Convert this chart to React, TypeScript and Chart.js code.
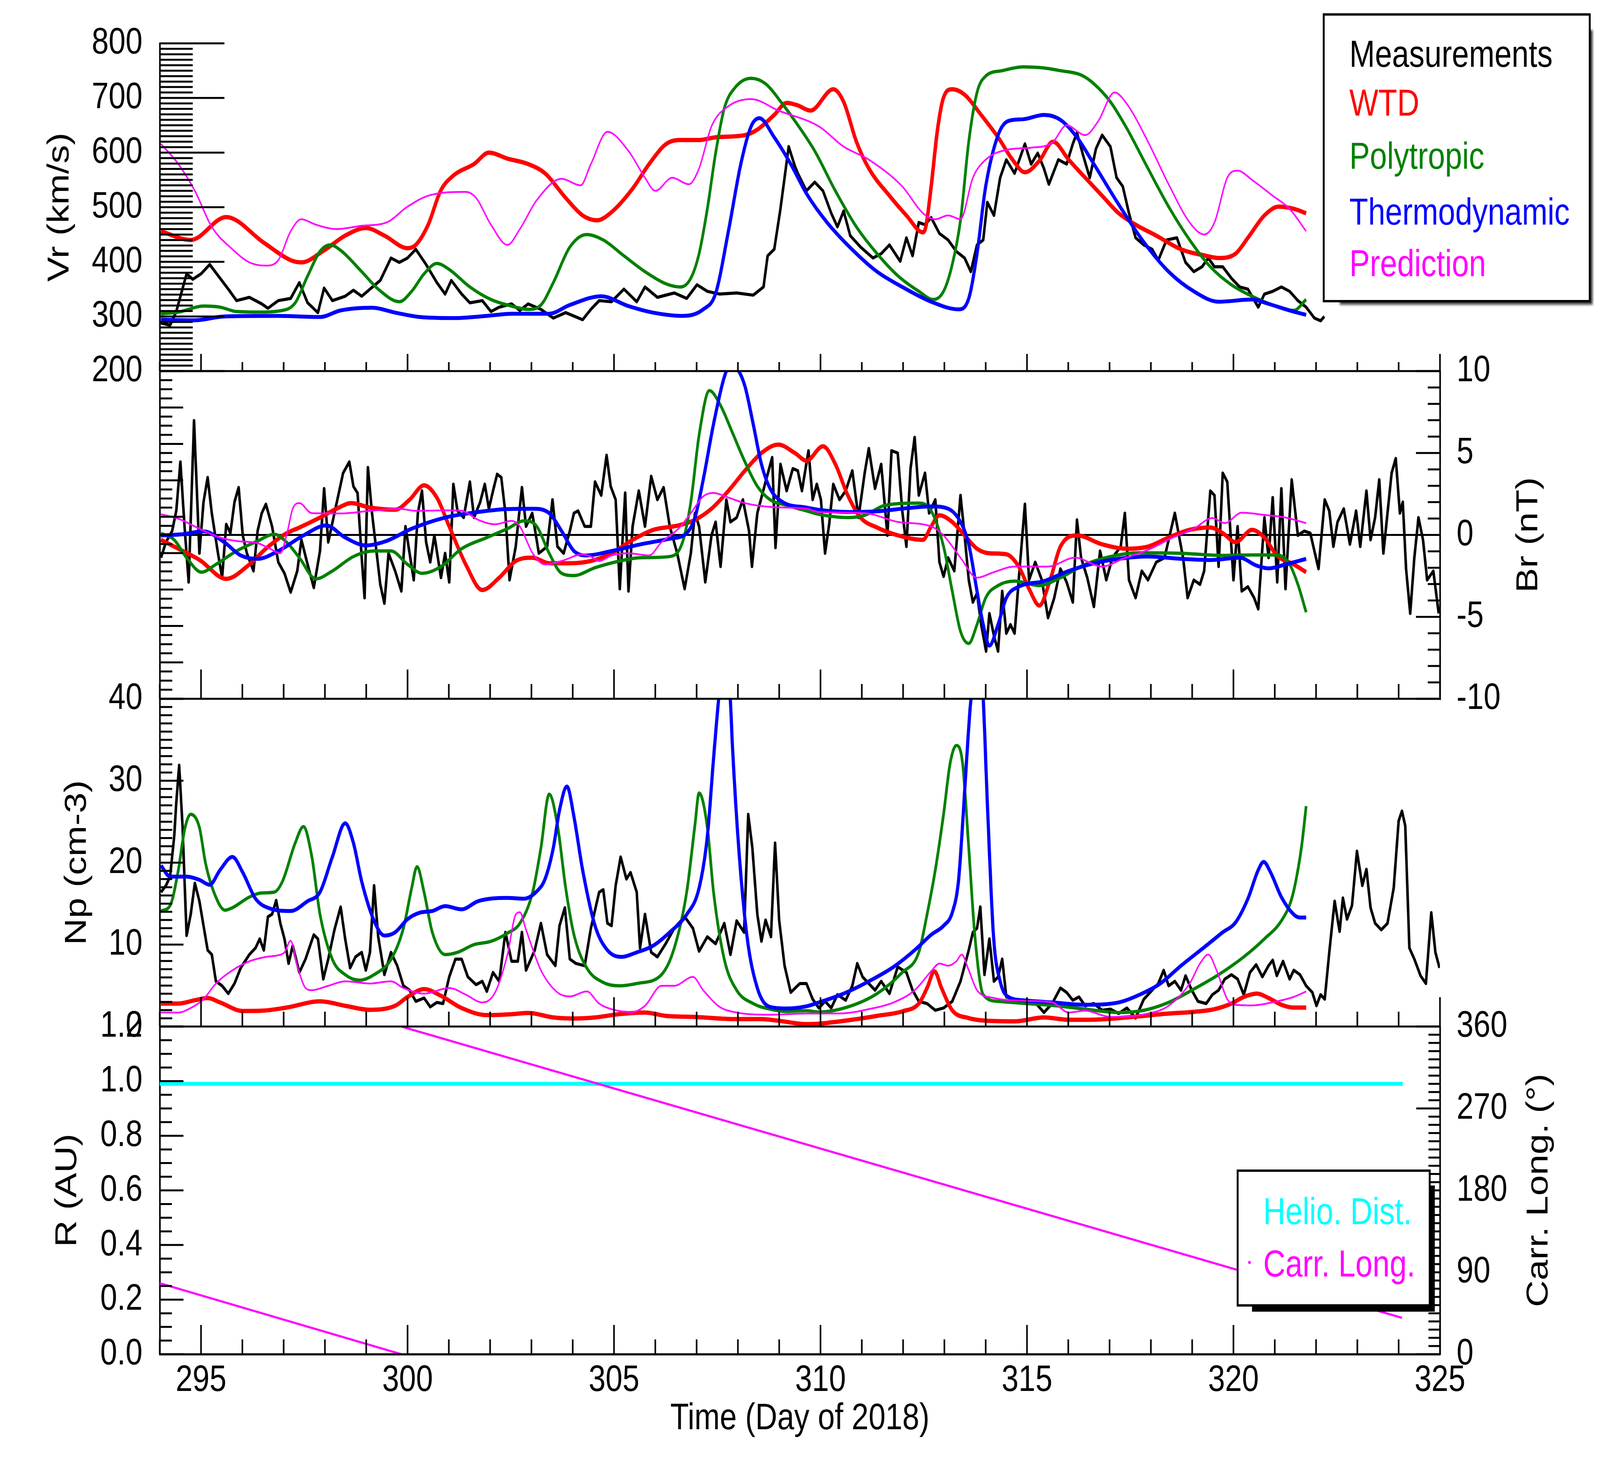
import { useEffect, useRef } from 'react';
import { Chart, registerables } from 'chart.js';

Chart.register(...registerables);

const FONT = '"Liberation Sans", Arial, Helvetica, sans-serif';
// the chart is laid out on a 4998 x 3748 drawing surface
const W = 4998;
const H = 3748;

// ---- tick labels ----
const dayLabels = [295, 300, 305, 310, 315, 320, 325];
const vrTicks = [200, 300, 400, 500, 600, 700, 800];
const brTicks = [-10, -5, 0, 5, 10];
const npTicks = [0, 10, 20, 30, 40];
const rTicks = [0, 0.2, 0.4, 0.6, 0.8, 1.0, 1.2];
const carrTicks = [0, 90, 180, 270, 360];

const legendTop = ['Measurements', 'WTD', 'Polytropic', 'Thermodynamic', 'Prediction'];
const legendBottom = ['Helio. Dist.', 'Carr. Long.'];

// ---- Vr (km/s): [day, value] ----
const vrMeas = [[294.03,288],[294.25,284],[294.4,309],[294.65,378],[294.8,368],[295.0,378],[295.21,395],[295.46,370],[295.66,350],[295.86,329],[296.17,335],[296.47,323],[296.62,315],[296.87,329],[297.17,333],[297.38,362],[297.58,325],[297.83,307],[297.98,352],[298.18,329],[298.49,337],[298.69,348],[298.89,337],[299.09,350],[299.34,366],[299.6,407],[299.8,399],[300.0,407],[300.2,423],[300.45,395],[300.71,362],[300.91,341],[301.06,366],[301.31,341],[301.51,325],[301.81,329],[302.02,309],[302.22,317],[302.52,323],[302.72,311],[302.92,323],[303.23,313],[303.53,297],[303.83,307],[304.24,294],[304.44,313],[304.64,329],[304.94,327],[305.24,350],[305.55,327],[305.75,354],[306.05,335],[306.46,343],[306.76,333],[307.01,358],[307.26,346],[307.56,341],[307.97,343],[308.37,339],[308.62,354],[308.72,411],[308.88,423],[309.03,497],[309.13,554],[309.23,611],[309.38,575],[309.45,562],[309.66,530],[309.86,546],[310.06,530],[310.26,489],[310.41,464],[310.56,493],[310.72,448],[310.97,427],[311.27,407],[311.47,415],[311.67,431],[311.93,401],[312.08,444],[312.23,411],[312.38,472],[312.53,468],[312.68,481],[312.88,452],[313.09,440],[313.29,419],[313.49,407],[313.64,382],[313.79,431],[313.94,440],[314.04,509],[314.2,485],[314.35,554],[314.5,587],[314.7,562],[314.95,616],[315.1,579],[315.26,599],[315.41,571],[315.53,542],[315.76,587],[315.96,579],[316.11,616],[316.21,636],[316.36,595],[316.52,554],[316.67,607],[316.82,632],[317.02,611],[317.17,554],[317.32,538],[317.47,489],[317.63,444],[317.83,431],[318.03,423],[318.18,403],[318.38,440],[318.63,444],[318.84,399],[319.04,382],[319.24,391],[319.39,407],[319.54,391],[319.74,391],[319.95,370],[320.15,354],[320.35,350],[320.6,317],[320.75,341],[320.95,346],[321.16,354],[321.36,346],[321.56,329],[321.76,317],[321.96,297],[322.11,292],[322.2,300]];
const vrWtd = [[294.03,456],[294.75,440],[295.61,482],[296.52,435],[297.17,403],[297.43,399],[297.98,421],[298.49,448],[298.99,462],[299.44,448],[300.0,425],[300.2,431],[300.5,468],[300.8,530],[301.11,558],[301.61,579],[301.97,600],[302.42,589],[302.92,579],[303.33,562],[303.83,517],[304.24,485],[304.59,476],[304.94,491],[305.45,534],[305.85,579],[306.25,615],[306.56,623],[307.06,623],[307.46,628],[308.17,632],[308.47,642],[308.88,669],[309.18,691],[309.43,687],[309.76,677],[310.31,716],[310.56,693],[310.87,620],[311.17,571],[311.67,521],[312.08,485],[312.48,454],[312.55,464],[312.68,538],[312.83,640],[312.98,701],[313.19,716],[313.49,706],[313.89,669],[314.3,628],[314.65,587],[314.95,564],[315.3,585],[315.63,620],[316.01,587],[316.41,554],[316.82,521],[317.22,489],[317.63,468],[318.13,448],[318.73,423],[319.34,411],[319.64,407],[320.05,415],[320.35,444],[320.75,485],[321.1,501],[321.46,497],[321.76,489]];
const vrPoly = [[294.03,305],[294.45,308],[295.06,319],[295.46,317],[295.86,309],[296.37,308],[296.97,311],[297.28,325],[297.58,374],[297.88,419],[298.13,431],[298.38,421],[298.89,382],[299.29,350],[299.8,327],[300.1,346],[300.4,378],[300.71,397],[301.01,386],[301.51,354],[302.02,331],[302.52,319],[302.92,313],[303.23,321],[303.53,362],[303.93,427],[304.34,450],[304.74,440],[305.24,411],[305.75,382],[306.25,360],[306.61,354],[306.86,370],[307.06,415],[307.26,497],[307.46,599],[307.67,681],[307.92,718],[308.32,736],[308.67,726],[309.08,689],[309.38,658],[309.86,603],[310.36,530],[310.87,464],[311.37,415],[311.88,374],[312.38,346],[312.73,331],[312.98,346],[313.19,395],[313.39,476],[313.59,620],[313.79,710],[314.0,740],[314.4,750],[314.9,757],[315.41,755],[315.81,750],[316.31,742],[316.62,726],[317.02,693],[317.42,644],[317.93,571],[318.43,501],[318.94,440],[319.44,391],[319.95,358],[320.45,337],[320.95,321],[321.46,311],[321.76,331]];
const vrThermo = [[294.03,294],[294.85,293],[295.56,300],[296.87,301],[297.88,299],[298.38,311],[299.14,316],[299.7,307],[300.3,299],[301.11,297],[301.92,301],[302.52,305],[303.43,305],[303.93,321],[304.69,337],[305.35,319],[305.95,307],[306.66,301],[307.16,313],[307.46,342],[307.77,456],[308.07,579],[308.32,648],[308.52,663],[308.88,628],[309.28,579],[309.66,525],[310.16,472],[310.87,415],[311.37,382],[311.98,354],[312.68,327],[313.34,313],[313.59,333],[313.79,415],[314.0,538],[314.3,632],[314.55,658],[314.9,661],[315.41,669],[315.81,660],[316.21,628],[316.62,579],[317.22,505],[317.83,436],[318.43,382],[319.04,346],[319.64,327],[320.45,331],[320.85,323],[321.36,311],[321.76,303]];
const vrPred = [[294.03,616],[294.45,579],[294.85,530],[295.26,464],[295.76,423],[296.17,399],[296.57,393],[296.87,403],[297.17,456],[297.43,478],[297.78,468],[298.28,460],[298.89,466],[299.49,472],[300.0,501],[300.5,521],[301.41,528],[301.66,517],[302.02,468],[302.42,431],[302.72,460],[303.13,513],[303.73,552],[304.19,540],[304.44,579],[304.84,638],[305.35,603],[305.75,554],[306.0,530],[306.41,554],[306.81,542],[307.06,571],[307.36,648],[307.77,685],[308.32,698],[308.98,677],[309.96,648],[310.56,611],[311.17,587],[311.98,538],[312.48,489],[312.78,478],[313.09,485],[313.39,478],[313.69,554],[314.0,587],[314.5,605],[315.1,609],[315.61,618],[315.96,650],[316.41,632],[316.72,657],[317.12,710],[317.42,689],[317.93,620],[318.43,542],[318.94,472],[319.29,450],[319.54,472],[319.85,554],[320.1,567],[320.45,550],[320.95,521],[321.36,497],[321.76,456]];

// ---- Br (nT) ----
const brMeas = [[294.03,-1.39],[294.15,-0.44],[294.3,0.24],[294.4,1.47],[294.5,4.46],[294.6,0.52],[294.7,-2.88],[294.83,6.98],[294.96,-1.12],[295.06,2.01],[295.16,3.51],[295.26,1.33],[295.41,-1.12],[295.51,-2.61],[295.61,0.65],[295.71,0.11],[295.81,2.01],[295.91,2.9],[296.01,-0.03],[296.11,-1.12],[296.27,-2.2],[296.37,0.24],[296.47,1.33],[296.57,1.88],[296.72,0.52],[296.87,-1.66],[297.02,-2.34],[297.17,-3.5],[297.33,-2.2],[297.43,-0.3],[297.58,-1.8],[297.73,-3.22],[297.88,-0.98],[297.98,2.83],[298.08,-0.44],[298.23,1.33],[298.44,3.78],[298.59,4.46],[298.69,2.96],[298.79,2.56],[298.89,-1.39],[298.96,-3.84],[299.04,4.12],[299.14,1.33],[299.24,-0.84],[299.34,-3.02],[299.44,-4.18],[299.54,-1.12],[299.7,-2.2],[299.85,-3.43],[299.95,0.52],[300.05,-1.12],[300.15,-2.75],[300.25,1.33],[300.35,2.69],[300.45,-0.44],[300.55,-1.66],[300.65,-0.03],[300.81,-2.61],[300.91,-1.12],[301.01,-2.88],[301.11,3.1],[301.21,1.47],[301.36,1.06],[301.51,3.24],[301.61,1.06],[301.76,2.01],[301.87,3.1],[301.97,1.6],[302.07,2.69],[302.17,3.71],[302.27,3.51],[302.37,1.33],[302.47,-2.75],[302.62,-0.71],[302.77,2.9],[302.87,0.52],[303.02,1.33],[303.18,-1.12],[303.38,-0.71],[303.51,2.15],[303.63,-0.71],[303.78,-1.12],[303.93,0.24],[304.03,1.33],[304.13,1.47],[304.29,0.52],[304.44,0.52],[304.54,3.24],[304.69,2.42],[304.82,4.87],[304.92,2.96],[305.04,2.15],[305.14,-3.29],[305.27,2.56],[305.35,-3.43],[305.45,0.52],[305.6,2.69],[305.75,0.52],[305.9,3.58],[306.05,2.15],[306.2,2.9],[306.35,0.52],[306.53,-1.12],[306.71,-3.29],[306.86,-1.12],[306.96,1.33],[307.06,0.52],[307.21,-2.88],[307.36,-0.03],[307.46,0.79],[307.58,-1.93],[307.72,2.15],[307.82,0.79],[307.97,1.06],[308.12,2.15],[308.27,0.24],[308.34,-1.93],[308.47,1.33],[308.67,3.24],[308.83,4.73],[308.91,-0.78],[309.03,4.32],[309.18,2.69],[309.33,4.05],[309.45,3.92],[309.55,2.69],[309.71,5.14],[309.81,2.15],[309.91,3.1],[310.01,2.15],[310.11,-1.12],[310.21,0.65],[310.31,3.1],[310.46,2.15],[310.61,2.69],[310.77,3.92],[310.92,1.06],[311.07,3.78],[311.17,5.28],[311.32,2.83],[311.47,4.32],[311.62,-0.03],[311.72,5.14],[311.87,5.0],[311.98,1.47],[312.08,-0.71],[312.18,4.05],[312.28,5.96],[312.38,2.42],[312.53,3.78],[312.63,1.33],[312.78,2.15],[312.88,-1.66],[312.98,-2.54],[313.09,-1.39],[313.24,-2.2],[313.39,2.42],[313.49,-0.03],[313.59,-2.75],[313.69,-4.11],[313.79,-3.56],[313.89,-5.47],[314.01,-7.1],[314.09,-4.79],[314.2,-6.15],[314.3,-7.1],[314.4,-3.43],[314.5,-6.01],[314.6,-5.47],[314.7,-6.01],[314.8,-2.75],[314.95,1.88],[315.05,-2.75],[315.2,-1.66],[315.36,-2.75],[315.51,-5.06],[315.66,-3.84],[315.81,-2.07],[315.96,-2.88],[316.11,-4.11],[316.21,0.92],[316.31,-1.39],[316.46,-2.61],[316.62,-4.38],[316.77,-0.98],[316.92,-2.75],[317.07,-1.39],[317.27,-0.71],[317.37,1.33],[317.47,-2.75],[317.63,-3.84],[317.78,-2.2],[317.93,-2.75],[318.13,-1.66],[318.33,-1.39],[318.48,0.24],[318.58,1.33],[318.68,-0.03],[318.78,-1.39],[318.89,-3.84],[319.04,-2.75],[319.19,-3.02],[319.29,-2.2],[319.44,2.69],[319.54,2.42],[319.64,-1.93],[319.74,3.78],[319.85,3.24],[320.0,-2.75],[320.1,0.52],[320.2,-3.43],[320.35,-3.16],[320.5,-3.84],[320.6,-4.52],[320.75,1.06],[320.85,-1.39],[320.95,2.28],[321.06,-2.88],[321.16,2.83],[321.26,-3.29],[321.41,3.37],[321.56,-0.03],[321.71,0.24],[321.86,0.11],[321.96,-0.98],[322.06,-2.07],[322.21,2.15],[322.32,1.47],[322.42,-0.71],[322.52,0.79],[322.67,1.6],[322.82,-0.57],[322.97,1.47],[323.07,-0.71],[323.22,2.69],[323.32,-0.3],[323.43,1.06],[323.53,3.37],[323.63,-1.12],[323.73,1.33],[323.83,3.78],[323.93,4.67],[324.03,1.33],[324.1,2.01],[324.18,-2.07],[324.28,-4.79],[324.38,-1.39],[324.48,1.06],[324.59,-0.3],[324.69,-2.75],[324.84,-2.2],[324.97,-4.79]];
const brWtd = [[294.03,-0.3],[294.45,-0.84],[294.96,-1.52],[295.61,-2.68],[296.17,-1.8],[296.57,-0.84],[297.07,0.1],[297.38,0.45],[297.88,1.06],[298.28,1.6],[298.64,1.94],[299.09,1.67],[299.7,1.54],[300.05,2.15],[300.4,3.03],[300.71,2.28],[301.01,0.52],[301.41,-1.8],[301.81,-3.36],[302.22,-2.61],[302.62,-1.59],[303.03,-1.39],[303.43,-1.73],[303.93,-1.73],[304.44,-1.59],[304.94,-1.12],[305.45,-0.3],[305.95,0.31],[306.56,0.58],[306.96,0.92],[307.36,1.6],[307.77,2.69],[308.17,3.92],[308.57,5.0],[308.98,5.51],[309.38,5.0],[309.66,4.53],[310.06,5.41],[310.36,4.32],[310.66,2.42],[310.97,1.06],[311.37,0.45],[311.88,-0.03],[312.48,-0.3],[312.68,0.52],[312.88,1.2],[313.19,0.79],[313.49,-0.03],[313.79,-0.84],[314.09,-1.12],[314.5,-1.18],[314.8,-1.93],[315.05,-3.29],[315.3,-4.31],[315.56,-2.75],[315.81,-0.71],[316.21,-0.03],[316.82,-0.57],[317.42,-0.84],[317.93,-0.71],[318.43,-0.16],[318.94,0.31],[319.44,0.45],[319.74,0.11],[320.05,-0.44],[320.45,0.31],[320.75,-0.16],[321.05,-1.25],[321.46,-1.8],[321.76,-2.27]];
const brPoly = [[294.03,0.1],[294.35,-0.3],[294.65,-1.39],[295.01,-2.27],[295.36,-1.8],[295.86,-0.98],[296.37,-0.37],[296.77,0.04],[297.07,-0.44],[297.38,-1.39],[297.78,-2.68],[298.18,-2.2],[298.69,-1.32],[299.19,-0.98],[299.6,-0.98],[300.0,-1.8],[300.35,-2.34],[300.81,-1.93],[301.31,-0.84],[301.92,-0.16],[302.42,0.38],[302.82,0.86],[303.13,0.52],[303.43,-1.12],[303.73,-2.34],[304.03,-2.48],[304.54,-2.0],[305.14,-1.59],[305.65,-1.39],[306.35,-1.32],[306.66,-0.44],[306.86,2.01],[307.06,6.09],[307.31,8.81],[307.56,8.0],[307.87,6.23],[308.17,4.46],[308.47,2.97],[308.78,2.15],[309.18,1.81],[309.66,1.47],[309.96,1.26],[310.66,1.06],[311.07,1.2],[311.57,1.81],[312.38,1.94],[312.68,1.47],[312.98,-0.71],[313.19,-3.43],[313.39,-5.88],[313.59,-6.62],[313.79,-5.47],[314.0,-3.84],[314.3,-3.09],[314.7,-2.82],[315.3,-3.09],[315.81,-2.61],[316.41,-1.8],[317.02,-1.32],[317.72,-1.09],[318.73,-1.12],[319.74,-1.25],[320.45,-1.22],[321.05,-1.22],[321.36,-1.8],[321.56,-3.02],[321.76,-4.72]];
const brThermo = [[294.03,-0.03],[294.55,0.04],[295.06,0.22],[295.56,-0.44],[295.96,-1.25],[296.37,-1.46],[296.87,-0.98],[297.48,-0.03],[298.03,0.58],[298.49,-0.16],[298.99,-0.64],[299.49,-0.37],[300.1,0.38],[300.91,1.06],[301.71,1.4],[302.42,1.58],[303.03,1.6],[303.43,1.33],[303.73,0.24],[304.03,-0.98],[304.34,-1.25],[304.94,-0.98],[305.65,-0.57],[306.35,-0.23],[306.76,0.11],[306.96,1.06],[307.16,3.37],[307.41,6.77],[307.67,9.63],[307.82,10.4],[307.97,10.2],[308.17,9.08],[308.37,6.77],[308.57,4.32],[308.78,2.83],[309.08,2.01],[309.66,1.67],[309.96,1.53],[310.66,1.4],[311.37,1.44],[312.08,1.63],[312.68,1.74],[313.09,1.6],[313.39,0.79],[313.59,-0.57],[313.79,-3.43],[313.94,-5.47],[314.09,-6.76],[314.3,-5.47],[314.5,-3.84],[314.8,-3.16],[315.41,-2.82],[316.01,-2.2],[316.62,-1.73],[317.22,-1.46],[317.93,-1.32],[318.73,-1.46],[319.44,-1.53],[320.15,-1.39],[320.55,-1.86],[320.85,-2.04],[321.26,-1.8],[321.76,-1.46]];
const brPred = [[294.03,1.26],[294.45,0.99],[294.96,0.38],[295.46,-0.16],[295.86,-0.37],[296.37,-0.5],[296.67,-0.84],[296.92,-1.12],[297.07,-0.03],[297.22,1.6],[297.38,1.94],[297.68,1.33],[298.38,1.31],[299.09,1.47],[299.8,1.6],[300.2,1.47],[300.91,1.5],[301.31,1.47],[301.71,0.92],[302.12,0.65],[302.52,0.86],[302.72,0.52],[303.03,-1.12],[303.33,-1.8],[303.73,-1.59],[304.24,-1.18],[304.44,-1.32],[304.64,-1.59],[304.94,-1.25],[305.35,-1.12],[305.85,-1.25],[306.15,-0.44],[306.56,0.38],[306.86,1.33],[307.16,2.35],[307.41,2.56],[307.77,2.28],[308.17,1.94],[308.78,1.71],[309.66,1.6],[309.96,1.4],[311.07,1.33],[311.88,0.79],[312.68,0.52],[312.98,-0.03],[313.39,-1.39],[313.79,-2.61],[314.2,-2.27],[314.7,-1.93],[315.51,-1.93],[316.16,-1.39],[316.82,-1.93],[317.32,-1.46],[317.93,-0.91],[318.53,-0.16],[319.04,0.38],[319.49,1.03],[319.79,0.72],[320.2,1.36],[320.75,1.22],[321.26,1.06],[321.76,0.72]];

// ---- Np (cm-3) ----
const npMeas = [[294.03,16.4],[294.15,17.2],[294.25,18.3],[294.35,23.2],[294.4,27.3],[294.47,31.9],[294.55,24.6],[294.65,11.1],[294.75,13.7],[294.85,17.5],[294.96,15.3],[295.06,12.3],[295.16,9.32],[295.26,8.78],[295.36,5.52],[295.51,4.97],[295.66,4.02],[295.81,5.25],[295.96,7.15],[296.17,8.78],[296.32,9.59],[296.42,10.7],[296.52,9.32],[296.62,13.4],[296.72,13.7],[296.82,15.4],[296.92,12.6],[297.02,10.7],[297.12,7.69],[297.22,9.87],[297.38,6.6],[297.53,8.23],[297.73,11.2],[297.83,10.7],[297.96,5.79],[298.08,8.23],[298.23,11.8],[298.38,14.6],[298.49,10.7],[298.61,7.15],[298.74,8.5],[298.89,9.05],[298.99,6.87],[299.09,9.05],[299.19,17.2],[299.29,10.95],[299.44,6.33],[299.6,9.05],[299.75,7.42],[299.9,4.97],[300.05,4.43],[300.2,3.07],[300.4,3.48],[300.55,2.39],[300.71,2.94],[300.86,2.8],[301.01,6.06],[301.16,8.23],[301.31,8.23],[301.46,6.06],[301.66,5.11],[301.81,5.52],[301.92,4.29],[302.07,6.6],[302.22,5.52],[302.37,11.5],[302.52,7.96],[302.67,7.96],[302.77,11.5],[302.87,6.87],[303.08,9.32],[303.23,12.6],[303.38,8.78],[303.58,7.42],[303.68,12.3],[303.81,14.5],[303.93,8.23],[304.08,7.69],[304.29,7.42],[304.44,12.0],[304.64,16.4],[304.74,16.7],[304.84,12.6],[304.94,12.3],[305.04,17.2],[305.16,20.7],[305.3,18.0],[305.4,18.8],[305.55,16.4],[305.63,9.59],[305.75,13.7],[305.9,9.05],[306.05,8.5],[306.25,10.1],[306.46,12.0],[306.71,13.4],[306.91,12.0],[307.06,9.19],[307.26,10.95],[307.46,10.1],[307.67,12.6],[307.82,8.78],[307.97,12.9],[308.15,11.5],[308.25,25.9],[308.35,21.8],[308.47,13.7],[308.57,10.4],[308.67,13.0],[308.8,10.95],[308.9,22.4],[309.0,12.9],[309.13,7.42],[309.28,4.16],[309.5,5.25],[309.66,5.25],[309.81,3.34],[309.96,2.26],[310.11,3.07],[310.26,2.26],[310.41,3.89],[310.61,3.21],[310.77,4.97],[310.89,7.69],[311.02,6.06],[311.17,5.25],[311.32,4.43],[311.47,5.52],[311.67,4.02],[311.87,7.28],[312.08,6.6],[312.23,4.43],[312.38,3.07],[312.58,2.8],[312.78,1.98],[312.98,2.26],[313.19,3.07],[313.39,5.52],[313.49,7.42],[313.59,9.32],[313.69,11.5],[313.79,12.0],[313.87,14.6],[313.97,6.33],[314.09,10.7],[314.2,5.52],[314.3,6.06],[314.4,8.23],[314.5,3.61],[314.7,3.34],[314.9,3.07],[315.2,2.94],[315.41,1.71],[315.61,2.8],[315.81,4.7],[315.96,4.16],[316.11,3.21],[316.26,3.61],[316.41,2.53],[316.62,2.8],[316.82,1.98],[317.02,2.12],[317.22,1.58],[317.42,2.26],[317.63,1.03],[317.83,3.34],[318.03,4.43],[318.18,5.25],[318.31,6.87],[318.43,4.97],[318.58,5.52],[318.73,4.43],[318.84,6.2],[318.99,4.43],[319.14,3.07],[319.34,2.8],[319.49,3.89],[319.64,4.43],[319.79,5.79],[319.95,6.33],[320.1,5.79],[320.25,3.89],[320.4,6.6],[320.55,7.55],[320.7,6.06],[320.85,7.42],[320.95,8.1],[321.05,6.2],[321.2,7.96],[321.36,5.79],[321.46,6.87],[321.61,6.33],[321.76,4.97],[321.91,4.16],[322.01,2.53],[322.11,3.89],[322.21,3.34],[322.32,9.05],[322.45,15.3],[322.57,11.6],[322.65,15.7],[322.75,13.1],[322.87,14.76],[322.99,21.4],[323.12,17.2],[323.22,19.2],[323.32,14.5],[323.43,12.6],[323.58,11.8],[323.73,12.6],[323.88,16.9],[324.0,25.1],[324.08,26.3],[324.16,24.5],[324.26,9.59],[324.38,8.23],[324.53,6.2],[324.66,5.25],[324.79,13.9],[324.89,9.05],[324.99,7.15]];
const npWtd = [[294.03,2.8],[294.45,2.8],[294.85,3.21],[295.16,3.48],[295.46,2.94],[296.01,1.9],[296.47,1.93],[297.07,2.31],[297.88,3.07],[298.49,2.53],[299.09,2.04],[299.7,2.53],[300.0,3.61],[300.4,4.57],[300.81,3.75],[301.31,2.26],[301.92,1.39],[302.52,1.5],[302.92,1.66],[303.53,1.11],[304.03,0.98],[304.54,1.11],[305.14,1.52],[305.75,1.71],[306.25,1.3],[306.96,1.17],[307.97,0.9],[308.57,0.9],[308.98,0.71],[309.66,0.3],[309.96,0.35],[310.87,0.9],[311.37,1.3],[311.98,1.85],[312.38,2.8],[312.58,4.7],[312.76,6.74],[312.93,4.7],[313.19,1.98],[313.59,1.03],[314.0,0.71],[314.7,0.63],[315.41,1.11],[316.01,0.82],[316.62,0.84],[317.42,1.11],[318.43,1.58],[319.04,1.79],[319.54,2.12],[319.95,2.8],[320.25,3.61],[320.57,4.02],[320.85,3.48],[321.16,2.66],[321.46,2.31],[321.76,2.31]];
const npPoly = [[294.03,14.1],[294.25,14.76],[294.45,19.1],[294.6,24.0],[294.75,25.9],[294.96,24.3],[295.11,19.9],[295.31,16.4],[295.58,14.2],[295.76,14.5],[296.17,15.8],[296.47,16.3],[296.77,16.4],[296.97,17.7],[297.28,22.4],[297.48,24.4],[297.68,20.8],[297.88,13.7],[298.18,8.2],[298.49,6.33],[298.84,5.65],[299.19,6.33],[299.6,8.2],[299.9,12.0],[300.1,16.9],[300.23,19.5],[300.4,16.4],[300.6,11.5],[300.91,8.78],[301.21,9.05],[301.61,10.0],[302.02,10.4],[302.42,11.4],[302.72,12.6],[303.03,16.4],[303.23,21.8],[303.43,28.35],[303.63,24.6],[303.83,16.9],[304.03,11.2],[304.34,7.15],[304.74,5.38],[305.14,4.97],[305.55,5.25],[306.15,6.33],[306.46,9.59],[306.76,16.4],[306.96,24.6],[307.06,28.5],[307.26,24.3],[307.41,16.4],[307.67,8.2],[307.97,4.43],[308.37,2.8],[308.78,2.12],[309.18,1.85],[309.66,1.93],[309.96,1.77],[310.66,2.39],[311.37,4.02],[311.98,6.6],[312.38,9.05],[312.58,13.67],[312.78,19.1],[312.98,25.9],[313.14,32.15],[313.29,34.3],[313.44,32.15],[313.59,21.8],[313.74,10.95],[313.94,3.89],[314.3,3.07],[315.0,2.8],[315.71,2.53],[316.41,2.12],[317.22,1.71],[317.83,1.98],[318.43,2.94],[319.04,4.57],[319.64,6.33],[320.25,8.5],[320.75,10.7],[321.16,12.9],[321.41,15.6],[321.56,19.1],[321.66,22.4],[321.76,26.9]];
const npThermo = [[294.03,19.65],[294.25,18.3],[294.65,18.3],[294.96,17.9],[295.21,17.3],[295.46,19.1],[295.76,20.7],[296.01,18.8],[296.32,15.6],[296.67,14.4],[297.17,14.1],[297.58,15.3],[297.88,16.4],[298.18,20.7],[298.49,24.8],[298.69,22.4],[298.89,17.7],[299.19,12.9],[299.44,11.1],[299.7,11.5],[300.0,13.1],[300.3,13.9],[300.6,14.1],[300.91,14.7],[301.31,14.3],[301.71,15.3],[302.42,15.7],[302.82,15.6],[303.13,16.5],[303.33,18.0],[303.53,21.8],[303.68,26.4],[303.86,29.3],[304.03,25.6],[304.24,19.1],[304.54,12.3],[304.84,9.32],[305.19,8.5],[305.55,9.05],[305.95,9.87],[306.35,11.5],[306.76,13.67],[307.06,16.9],[307.26,23.2],[307.41,32.7],[307.54,40.3],[307.67,46],[307.81,40.5],[307.87,34],[308.02,21.8],[308.22,11],[308.47,4.7],[308.78,2.39],[309.18,2.2],[309.66,2.47],[309.96,2.94],[310.56,4.02],[311.17,5.52],[311.77,7.28],[312.28,9.32],[312.68,11.2],[312.98,12.3],[313.19,13.9],[313.34,17.7],[313.44,24.6],[313.54,32.7],[313.64,39.8],[313.84,46],[313.94,40],[314.04,27.3],[314.19,11],[314.35,5.52],[314.55,3.61],[314.9,3.21],[315.61,2.94],[316.41,2.66],[317.22,2.94],[317.73,3.89],[318.23,5.25],[318.73,7.42],[319.34,9.87],[319.74,11.5],[320.05,12.7],[320.35,15.6],[320.6,19.1],[320.73,20.1],[320.9,18.8],[321.16,15.8],[321.46,13.67],[321.61,13.3],[321.76,13.3]];
const npPred = [[294.03,1.71],[294.45,1.71],[294.75,2.26],[295.06,3.34],[295.36,5.25],[295.76,6.87],[296.17,7.96],[296.57,8.5],[296.87,8.7],[297.02,9.05],[297.17,10.46],[297.33,7.42],[297.53,4.7],[297.68,4.43],[298.08,4.97],[298.49,5.52],[299.09,5.25],[299.6,5.52],[299.9,4.7],[300.4,4.02],[301.01,4.7],[301.41,3.89],[301.81,2.94],[302.12,4.16],[302.42,8.78],[302.62,13.67],[302.72,13.94],[302.87,11.8],[303.23,6.87],[303.63,4.16],[303.93,3.67],[304.34,4.29],[304.64,2.8],[305.04,1.98],[305.45,1.77],[305.75,2.53],[306.15,4.97],[306.46,4.97],[306.91,6.06],[307.16,4.43],[307.56,2.39],[307.97,1.71],[308.78,1.44],[309.66,1.58],[310.5,1.6],[311.17,2.12],[311.77,2.94],[312.28,4.43],[312.68,6.74],[312.88,7.69],[313.09,7.42],[313.29,7.96],[313.42,8.78],[313.59,6.87],[313.79,4.43],[314.2,3.48],[315.0,3.13],[315.61,2.94],[316.01,1.71],[316.41,1.93],[317.02,1.17],[317.93,1.58],[318.43,2.53],[318.94,5.25],[319.19,7.69],[319.39,8.78],[319.59,6.87],[319.85,3.34],[320.05,2.66],[320.45,2.58],[321.05,3.07],[321.46,3.61],[321.76,4.29]];

// ---- orbit ----
const helioDist = [[294.0,0.99],[324.1,0.99]];
const carrLong = [[294.0,78],[299.85,0],[299.85,null],[299.85,360],[324.08,40]];

const BLACK = '#000000';
const RED = '#ff0000';
const GREEN = '#008000';
const BLUE = '#0000ff';
const MAGENTA = '#ff00ff';
const CYAN = '#00ffff';

const line = (pts: any[], axis: string, color: string, width: number, order: number, smooth: boolean) => ({
  data: pts.map(([x, y]) => ({ x, y })),
  yAxisID: axis,
  borderColor: color,
  backgroundColor: color,
  borderWidth: width,
  pointRadius: 0,
  fill: false,
  tension: 0,
  cubicInterpolationMode: smooth ? 'monotone' : 'default',
  borderJoinStyle: 'round',
  order,
  clip: false,
});

// tick marks drawn inside the frame, as in the original plot
const yTickSpecs = [
  { id: 'yVr', side: 'left', minor: 10, minorLen: 103, major: 100, majorLen: 202 },
  { id: 'yBrL', side: 'left', minor: 0.25, minorLen: 39, major: 1, majorLen: 73 },
  { id: 'yBr', side: 'right', minor: 1, minorLen: 38, major: 5, majorLen: 75 },
  { id: 'yNp', side: 'left', minor: 1, minorLen: 39, major: 10, majorLen: 74 },
  { id: 'yR', side: 'left', minor: 0.05, minorLen: 38, major: 0.2, majorLen: 74 },
  { id: 'yCL', side: 'right', minor: 9, minorLen: 36, major: 90, majorLen: 74 },
];
const panelBottoms = [
  { id: 'yVr', major: 44, minor: 23 },
  { id: 'yBrL', major: 75, minor: 38 },
  { id: 'yNp', major: 75, minor: 38 },
  { id: 'yR', major: 75, minor: 38 },
];

const decor = {
  id: 'decor',
  beforeDatasetDraw(chart: any, args: any) {
    const ys = args.meta.yScale;
    const a = chart.chartArea;
    const c = chart.ctx;
    c.save();
    c.beginPath();
    c.rect(a.left, ys.top, a.right - a.left, ys.bottom - ys.top);
    c.clip();
  },
  afterDatasetDraw(chart: any) {
    chart.ctx.restore();
  },
  afterDraw(chart: any) {
    const c = chart.ctx;
    const a = chart.chartArea;
    const xs = chart.scales.x;
    const seg = (x1: number, y1: number, x2: number, y2: number) => {
      c.beginPath();
      c.moveTo(x1, y1);
      c.lineTo(x2, y2);
      c.stroke();
    };
    c.save();
    c.strokeStyle = '#000';
    c.lineWidth = 5;
    c.lineCap = 'butt';

    for (const p of panelBottoms) {
      const yb = chart.scales[p.id].bottom;
      seg(a.left - 2, yb, a.right + 2, yb);
      for (let d = 294; d <= 325; d++) {
        const x = xs.getPixelForValue(d);
        seg(x, yb, x, yb - (d % 5 === 0 ? p.major : p.minor));
      }
    }
    for (const t of yTickSpecs) {
      const s = chart.scales[t.id];
      const n = Math.round((s.max - s.min) / t.minor);
      const x0 = t.side === 'left' ? a.left : a.right;
      const dir = t.side === 'left' ? 1 : -1;
      for (let i = 0; i <= n; i++) {
        const v = s.min + i * t.minor;
        const r = v / t.major;
        const isMajor = Math.abs(r - Math.round(r)) < 1e-6;
        const y = s.getPixelForValue(v);
        seg(x0, y, x0 + dir * (isMajor ? t.majorLen : t.minorLen), y);
      }
    }

    // right-hand axis titles, reading bottom to top
    c.fillStyle = '#000';
    c.font = `95px ${FONT}`;
    c.textAlign = 'center';
    c.textBaseline = 'middle';
    const sideTitle = (text: string, x: number, s: any) => {
      c.save();
      c.translate(x, (s.top + s.bottom) / 2);
      c.rotate(-Math.PI / 2);
      c.fillText(text, 0, 0);
      c.restore();
    };
    sideTitle('Br (nT)', a.right + 278, chart.scales.yBr);
    sideTitle('Carr. Long. (°)', a.right + 310, chart.scales.yCL);

    // legend of the speed panel
    c.fillStyle = '#3c3c3c';
    c.filter = 'blur(3px)';
    c.fillRect(4185, 77, 790, 703);
    c.filter = 'none';
    c.fillStyle = '#fff';
    c.fillRect(4135, 37, 831, 734);
    c.lineWidth = 6;
    c.strokeRect(4135, 37, 831, 734);
    c.font = `96px ${FONT}`;
    c.textAlign = 'left';
    c.textBaseline = 'alphabetic';
    const topColors = [BLACK, RED, GREEN, BLUE, MAGENTA];
    const topBase = [171, 296, 432, 575, 707];
    legendTop.forEach((t, i) => {
      c.fillStyle = topColors[i];
      c.fillText(t, 4215, topBase[i]);
    });

    // legend of the orbit panel
    c.fillStyle = '#000';
    c.fillRect(3911, 3035, 571, 323);
    c.fillStyle = '#fff';
    c.fillRect(3866, 2997, 600, 345);
    c.strokeStyle = '#000';
    c.lineWidth = 6;
    c.strokeRect(3866, 2997, 600, 345);
    c.fillStyle = CYAN;
    c.fillText(legendBottom[0], 3946, 3134);
    c.fillStyle = MAGENTA;
    c.fillText(legendBottom[1], 3946, 3268);
    c.beginPath();
    c.arc(3903, 3232, 4, 0, Math.PI * 2);
    c.fill();
    c.restore();
  },
};

const font = { family: FONT, size: 95 };

const yAxis = (side: 'left' | 'right', weight: number, min: number, max: number, extra: any = {}) => ({
  type: 'linear',
  position: side,
  stack: 'panels',
  stackWeight: 1,
  weight,
  min,
  max,
  grid: { display: false, drawTicks: false },
  border: { display: true, color: '#000', width: 5 },
  ticks: { font, color: '#000', padding: side === 'left' ? 54 : 52, autoSkip: false },
  afterFit: (s: any) => {
    s.width = side === 'left' ? 499 : 500;
  },
  ...extra,
});

const setTicks = (vals: number[]) => (s: any) => {
  s.ticks = vals.map((v) => ({ value: v }));
};

export default function App() {
  const canvasRef = useRef<HTMLCanvasElement>(null);

  useEffect(() => {
    document.body.style.margin = '0';
    document.body.style.overflow = 'hidden';
    const ctx = canvasRef.current?.getContext('2d');
    if (!ctx) return;

    const chart = new Chart(ctx, {
      type: 'line',
      data: {
        datasets: [
          line(vrMeas, 'yVr', BLACK, 8, 5, false),
          line(vrWtd, 'yVr', RED, 11, 4, true),
          line(vrPoly, 'yVr', GREEN, 8.5, 3, true),
          line(vrThermo, 'yVr', BLUE, 10, 2, true),
          line(vrPred, 'yVr', MAGENTA, 4.5, 1, true),
          line(brMeas, 'yBr', BLACK, 8, 5, false),
          line(brWtd, 'yBr', RED, 11, 4, true),
          line(brPoly, 'yBr', GREEN, 8.5, 3, true),
          line(brThermo, 'yBr', BLUE, 10, 2, true),
          line(brPred, 'yBr', MAGENTA, 4.5, 1, true),
          line(npMeas, 'yNp', BLACK, 8, 5, false),
          line(npWtd, 'yNp', RED, 11, 4, true),
          line(npPoly, 'yNp', GREEN, 8.5, 3, true),
          line(npThermo, 'yNp', BLUE, 10, 2, true),
          line(npPred, 'yNp', MAGENTA, 4.5, 1, true),
          line(helioDist, 'yR', CYAN, 10, 2, false),
          line(carrLong, 'yCL', MAGENTA, 5.5, 1, false),
        ] as any,
      },
      options: {
        animation: false,
        responsive: false,
        devicePixelRatio: 1,
        layout: { padding: { top: 94, left: 0, right: 0, bottom: 0 } },
        plugins: { legend: { display: false }, tooltip: { enabled: false } },
        scales: {
          x: {
            type: 'linear',
            position: 'bottom',
            min: 294,
            max: 325,
            afterBuildTicks: setTicks(dayLabels),
            grid: { display: false, drawTicks: false },
            border: { display: true, color: '#000', width: 5 },
            ticks: { font, color: '#000', padding: 11, autoSkip: false, maxRotation: 0, callback: (v: any) => String(v) },
            title: { display: true, text: 'Time (Day of 2018)', font, color: '#000', padding: { top: 0, bottom: 58 } },
            afterFit: (s: any) => {
              s.height = 281;
            },
          },
          // left stack, top to bottom
          yVr: yAxis('left', 4, 200, 800, {
            afterBuildTicks: setTicks(vrTicks),
            title: { display: true, text: 'Vr (km/s)', font, color: '#000', padding: { top: 131, bottom: 0 } },
          }),
          yBrL: yAxis('left', 3, 0, 9, { ticks: { display: false } }),
          yNp: yAxis('left', 2, 0, 40, {
            afterBuildTicks: setTicks(npTicks),
            title: { display: true, text: 'Np (cm-3)', font, color: '#000', padding: { top: 185, bottom: 0 } },
          }),
          yR: yAxis('left', 1, 0, 1.2, {
            afterBuildTicks: setTicks(rTicks),
            ticks: { font, color: '#000', padding: 54, autoSkip: false, callback: (v: any) => Number(v).toFixed(1) },
            title: { display: true, text: 'R (AU)', font, color: '#000', padding: { top: 155, bottom: 0 } },
          }),
          // right stack, top to bottom
          yVrR: yAxis('right', 1, 200, 800, { ticks: { display: false }, border: { display: false } }),
          yBr: yAxis('right', 2, -10, 10, {
            afterBuildTicks: setTicks(brTicks),
            grid: {
              display: true,
              drawTicks: false,
              drawOnChartArea: true,
              lineWidth: 5,
              color: (c: any) => (c.tick && c.tick.value === 0 ? '#000' : 'rgba(0,0,0,0)'),
            },
          }),
          yNpR: yAxis('right', 3, 0, 40, { ticks: { display: false }, border: { display: false } }),
          yCL: yAxis('right', 4, 0, 360, { afterBuildTicks: setTicks(carrTicks) }),
        } as any,
      },
      plugins: [decor],
    } as any);

    return () => chart.destroy();
  }, []);

  // the drawing surface stays 4998 x 3748; CSS fits it to whatever the window is
  return (
    <div style={{ position: 'fixed', left: 0, top: 0, width: '100vw', height: '100vh', overflow: 'hidden', background: '#fff' }}>
      <canvas ref={canvasRef} width={W} height={H} style={{ display: 'block', width: '100vw', height: '100vh' }} />
    </div>
  );
}
